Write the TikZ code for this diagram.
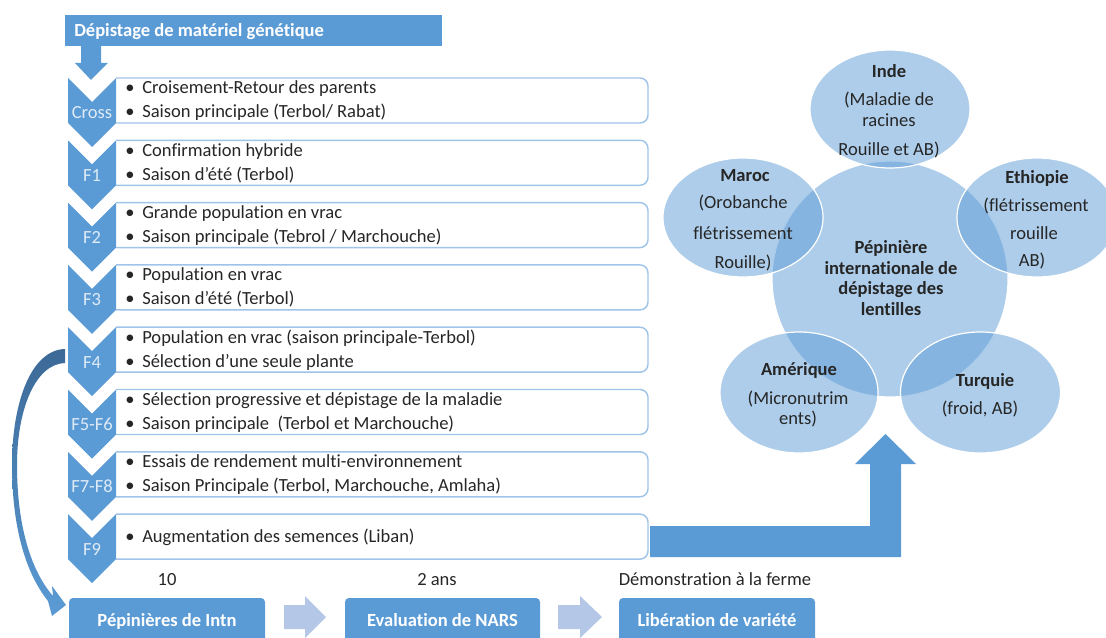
\documentclass[tikz,border=0pt]{standalone}
\usepackage{fontspec}
\setmainfont{Carlito}[Ligatures={NoCommon}]
\definecolor{cblue}{RGB}{91,155,213}
\definecolor{cdark}{RGB}{60,105,150}
\definecolor{clight}{RGB}{180,199,231}
\definecolor{cborder}{RGB}{160,196,232}
\definecolor{ctext}{RGB}{38,38,38}
\definecolor{clabel}{RGB}{222,235,247}
\newcommand\chevbox[4]{%
  \pgfmathsetmacro\T{78+62.3*#1}
  \fill[chevfill] (68,\T) -- (92,\T+24) -- (116,\T) -- (116,\T+45) -- (92,\T+69) -- (68,\T+45) -- cycle;
  \draw[boxline] (116,\T) -- (648,\T) -- (648,\T+45) -- (116,\T+45);
  \node[chevlab, anchor=base] (c#1) at (92,\T+41) {#2};
  \node[anchor=base west] (a#1) at (125,\T+16) {\makebox[12.75pt][l]{•}#3};
  \node[anchor=base west] (b#1) at (125,\T+40) {\makebox[12.75pt][l]{•}#4};
}
\begin{document}
\begin{tikzpicture}[x=0.75pt,y=-0.75pt,
  font=\fontsize{13.9}{17}\selectfont,
  every node/.style={inner sep=0pt, text=ctext},
  chevfill/.style={fill=cblue},
  boxline/.style={draw=cborder, line width=1.1pt, rounded corners=6pt},
  chevlab/.style={text=clabel},
  whitebold/.style={text=white, font=\fontsize{13.9}{17}\selectfont\bfseries},
  venn/.style={fill=cblue, fill opacity=0.5, draw=white, line width=0.9pt},
  bb/.style={font=\fontsize{13.9}{17}\selectfont\bfseries},
  bluebox/.style={fill=cblue, rounded corners=3pt},
  lightarrow/.style={fill=clight}]
\useasboundingbox (0,0) rectangle (1106,638);

% title bar
\fill[cblue] (65,15) rectangle (442,46);
\node[whitebold, anchor=base west] (title) at (74,37) {Dépistage de matériel génétique};
\fill[cblue] (81,46) -- (101,46) -- (101,63) -- (108,63) -- (91,80) -- (75,63) -- (81,63) -- cycle;

% chevron list
\chevbox{0}{Cross}{Croisement-Retour des parents}{Saison principale (Terbol/ Rabat)}
\chevbox{1}{F1}{Confirmation hybride}{Saison d'été (Terbol)}
\chevbox{2}{F2}{Grande population en vrac}{Saison principale (Tebrol / Marchouche)}
\chevbox{3}{F3}{Population en vrac}{Saison d'été (Terbol)}
\chevbox{4}{F4}{Population en vrac (saison principale-Terbol)}{Sélection d'une seule plante}
\chevbox{5}{F5-F6}{Sélection progressive et dépistage de la maladie}{Saison principale\ \ (Terbol et Marchouche)}
\chevbox{6}{F7-F8}{Essais de rendement multi-environnement}{Saison Principale (Terbol, Marchouche, Amlaha)}
% F9
\pgfmathsetmacro\T{78+62.3*7}
\fill[chevfill] (68,\T) -- (92,\T+24) -- (116,\T) -- (116,\T+45) -- (92,\T+69) -- (68,\T+45) -- cycle;
\draw[boxline] (116,\T) -- (648,\T) -- (648,\T+45) -- (116,\T+45);
\node[chevlab, anchor=base] (c7) at (92,\T+41) {F9};
\node[anchor=base west] (a7) at (125,\T+28) {\makebox[12.75pt][l]{•}Augmentation des semences (Liban)};

% bent arrow to nursery
\fill[cblue] (650,526) -- (870,526) -- (870,464) -- (855,464) -- (885.5,434) -- (916,464) -- (901,464) -- (901,557) -- (650,557) -- cycle;

% curved arrow F4 -> Pepinieres
\shade[top color=cdark, bottom color=cblue] (65,349) .. controls (30,350) and (12,405) .. (12,465) .. controls (12,530) and (27,575) .. (48,601) -- (52,616) -- (66,605) -- (52,586) -- (53,596) .. controls (32,572) and (17,528) .. (17,465) .. controls (17,410) and (35,364) .. (65,363) -- cycle;

% bottom row
\fill[bluebox] (69,598) rectangle (265,650);
\node[whitebold, anchor=base] (pep) at (167,626) {Pépinières de Intn};
\fill[bluebox] (345,598) rectangle (540,650);
\node[whitebold, anchor=base] (nars) at (442.5,626) {Evaluation de NARS};
\fill[bluebox] (619,598) rectangle (815,650);
\node[whitebold, anchor=base] (lib) at (717,626) {Libération de variété};
\fill[lightarrow] (284,605) -- (305,605) -- (305,596) -- (326,617) -- (305,638) -- (305,629) -- (284,629) -- cycle;
\fill[lightarrow] (558,605) -- (580,605) -- (580,596) -- (602,617) -- (580,638) -- (580,629) -- (558,629) -- cycle;
\node[anchor=base] (l10) at (167,585) {10};
\node[anchor=base] (l2) at (437,585) {2 ans};
\node[anchor=base] (ldem) at (715,585) {Démonstration à la ferme};

% venn
\path[venn] (890,279) circle[radius=118];
\path[venn] (890,109) ellipse[x radius=80, y radius=59];
\path[venn] (743,217.5) ellipse[x radius=80, y radius=59.5];
\path[venn] (1037,217.5) ellipse[x radius=80, y radius=59.5];
\path[venn] (799,392.5) ellipse[x radius=79, y radius=60.5];
\path[venn] (980.5,392.5) ellipse[x radius=80, y radius=60.5];

% centre text
\node[bb, anchor=base] (p1) at (891,253) {Pépinière};
\node[bb, anchor=base] (p2) at (891,274) {internationale de};
\node[bb, anchor=base] (p3) at (891,294) {dépistage des};
\node[bb, anchor=base] (p4) at (891,315) {lentilles};
% Inde
\node[bb, anchor=base] (i1) at (889,78) {Inde};
\node[anchor=base] (i2) at (889,106) {(Maladie de};
\node[anchor=base] (i3) at (889,127) {racines};
\node[anchor=base] (i4) at (889,156) {Rouille et AB)};
% Maroc
\node[bb, anchor=base] (m1) at (745,181) {Maroc};
\node[anchor=base] (m2) at (743,209) {(Orobanche};
\node[anchor=base] (m3) at (743,239) {flétrissement};
\node[anchor=base] (m4) at (743,268) {Rouille)};
% Ethiopie
\node[bb, anchor=base] (e1) at (1037,184) {Ethiopie};
\node[anchor=base] (e2) at (1036,211) {(flétrissement};
\node[anchor=base] (e3) at (1034,239) {rouille};
\node[anchor=base] (e4) at (1032,266) {AB)};
% Amerique
\node[bb, anchor=base] (a1x) at (799,375) {Amérique};
\node[anchor=base] (a2x) at (798,404) {(Micronutrim};
\node[anchor=base] (a3x) at (798,424) {ents)};
% Turquie
\node[bb, anchor=base] (t1) at (985,386) {Turquie};
\node[anchor=base] (t2) at (980,414) {(froid, AB)};
\end{tikzpicture}
\end{document}
